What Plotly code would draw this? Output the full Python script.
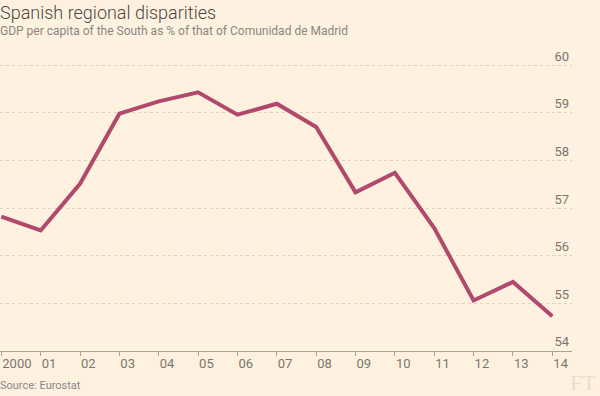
import plotly.graph_objects as go

years = list(range(2000, 2015))
tick_labels = ["2000", "01", "02", "03", "04", "05", "06", "07", "08", "09", "10", "11", "12", "13", "14"]
gdp_share = [56.82, 56.53, 57.51, 58.98, 59.24, 59.43, 58.96, 59.19, 58.70, 57.33, 57.74, 56.58, 55.06, 55.45, 54.73]
y_ticks = [54, 55, 56, 57, 58, 59, 60]

title = "Spanish regional disparities"
subtitle = "GDP per capita of the South as % of that of Comunidad de Madrid"
source = "Source: Eurostat"

bg = "#fff1e0"
font_family = "Roboto, 'Liberation Sans', sans-serif"

M_L, M_R, M_T, M_B = 0, 28, 42, 45
W, H = 600, 396
PH = H - M_T - M_B
PX_PER_UNIT = 47.65


def py(p):
    """pixel row -> paper y"""
    return (H - M_B - p) / PH


fig = go.Figure()
fig.add_trace(go.Scatter(
    x=years, y=gdp_share, mode="lines",
    line=dict(color="#b0496c", width=4),
    hoverinfo="skip", showlegend=False,
))

fig.update_layout(
    width=W, height=H,
    paper_bgcolor=bg, plot_bgcolor=bg,
    margin=dict(l=M_L, r=M_R, t=M_T, b=M_B, autoexpand=False),
    font=dict(family=font_family, color="#7a766f"),
    xaxis=dict(
        range=[1999.967, 2014.5], automargin=False,
        tickmode="array", tickvals=years, ticktext=tick_labels,
        ticks="outside", ticklen=4, tickcolor="#a7a39b", tickwidth=1,
        showline=True, linecolor="#a7a39b", linewidth=1,
        showgrid=False, zeroline=False,
        ticklabelposition="outside right",
        tickfont=dict(size=13, color="#7a766f"),
    ),
    yaxis=dict(
        range=[54, 54 + PH / PX_PER_UNIT], side="right", automargin=False,
        tickmode="array", tickvals=y_ticks,
        ticks="", showline=False, zeroline=False,
        showgrid=True, gridcolor="#dcd2c4", griddash="dot", gridwidth=1,
        ticklabelposition="inside top",
        tickfont=dict(size=13, color="#7a766f"),
    ),
)

fig.add_annotation(text=title, xref="paper", yref="paper", x=0, y=py(0), xanchor="left", yanchor="top",
                   xshift=-2, showarrow=False,
                   font=dict(size=18, color="#4a4743", family=font_family, weight=300))
fig.add_annotation(text=subtitle, xref="paper", yref="paper", x=0, y=py(22), xanchor="left", yanchor="top",
                   xshift=-2, showarrow=False, font=dict(size=12, color="#8a8780", family=font_family))
fig.add_annotation(text=source, xref="paper", yref="paper", x=0, y=py(394), xanchor="left", yanchor="bottom",
                   xshift=-2, showarrow=False, font=dict(size=11, color="#8a8780", family=font_family))
fig.add_annotation(text="FT", xref="paper", yref="paper", x=(W - 2) / (W - M_L - M_R), y=py(397),
                   xanchor="right", yanchor="bottom", showarrow=False,
                   font=dict(size=22, color="#e8dccf", family="'Liberation Serif', 'DejaVu Serif', serif"))

fig.write_html(
    "out.html",
    config={"displayModeBar": False},
    post_script="document.body.style.margin='0';document.body.style.background='#fff1e0';",
)
